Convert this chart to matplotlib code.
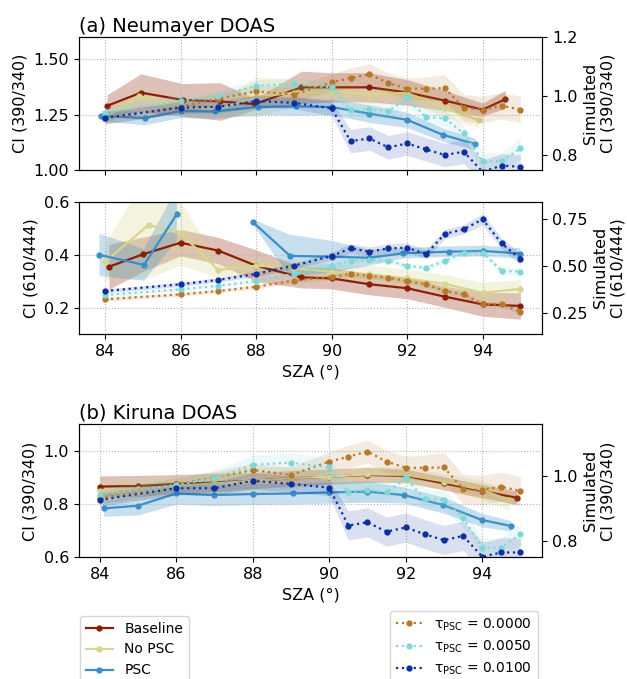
import numpy as np
import matplotlib
matplotlib.use("Agg")
import matplotlib.pyplot as plt
from matplotlib.lines import Line2D
from matplotlib.ticker import MultipleLocator

plt.rcParams['font.size'] = 11.5

# colours of the six series
C_BASE = "#8a1e05"
C_NOPSC = "#d6d68c"
C_PSC = "#3a8fc6"
C_T0 = "#b8782a"
C_T5 = "#80d8d6"
C_T10 = "#0b2f9e"

# simulated SZA grid (same for all panels)
sza_sim = [84, 86, 87, 88, 89, 90, 90.5, 91, 91.5, 92, 92.5, 93, 93.5, 94, 94.5, 95]

# ---- (a) Neumayer, CI 390/340 ----
nm1_base_x = [84.05, 84.95, 86.05, 87.05, 87.97, 89.2, 90.0, 91.0, 92.0, 93.0, 94.0, 94.6]
nm1_base_y = [1.29, 1.35, 1.317, 1.31, 1.298, 1.374, 1.374, 1.374, 1.351, 1.314, 1.273, 1.32]
nm1_base_e = [0.05, 0.085, 0.074, 0.085, 0.025, 0.073, 0.066, 0.066, 0.058, 0.045, 0.03, 0.04]

nm1_nopsc_x = [84.0, 84.9, 86.0, 87.0, 88.0, 89.0, 90.0, 91.0, 92.0, 93.0, 93.9]
nm1_nopsc_y = [1.235, 1.335, 1.285, 1.275, 1.33, 1.35, 1.355, 1.343, 1.349, 1.28, 1.225]
nm1_nopsc_e = [0.03, 0.04, 0.03, 0.03, 0.09, 0.06, 0.04, 0.04, 0.04, 0.04, 0.035]

nm1_psc_x = [83.9, 85.05, 86.0, 86.9, 88.05, 89.05, 90.0, 91.0, 92.0, 92.95, 93.8]
nm1_psc_y = [1.245, 1.235, 1.267, 1.265, 1.285, 1.288, 1.285, 1.255, 1.227, 1.159, 1.118]
nm1_psc_e = [0.025, 0.03, 0.03, 0.03, 0.035, 0.04, 0.035, 0.04, 0.035, 0.03, 0.025]

nm1_t0 = [0.925, 0.965, 0.992, 1.017, 1.006, 1.047, 1.062, 1.075, 1.045, 1.026, 1.026, 1.028, 0.961, 0.955, 0.968, 0.955]
nm1_t0_e = [0.02, 0.02, 0.02, 0.02, 0.025, 0.03, 0.035, 0.035, 0.035, 0.035, 0.04, 0.045, 0.045, 0.045, 0.045, 0.045]
nm1_t5 = [0.944, 0.985, 1.0, 1.036, 1.041, 1.03, 0.953, 0.956, 0.95, 0.993, 0.93, 0.925, 0.874, 0.78, 0.78, 0.823]
nm1_t5_e = [0.02, 0.02, 0.02, 0.02, 0.02, 0.02, 0.025, 0.025, 0.025, 0.025, 0.03, 0.03, 0.03, 0.03, 0.03, 0.035]
nm1_t10 = [0.927, 0.962, 0.964, 0.984, 0.978, 0.959, 0.848, 0.857, 0.827, 0.84, 0.82, 0.801, 0.812, 0.744, 0.765, 0.761]
nm1_t10_e = [0.02, 0.02, 0.02, 0.02, 0.02, 0.025, 0.04, 0.04, 0.04, 0.04, 0.04, 0.04, 0.04, 0.04, 0.04, 0.04]

# ---- (a) Neumayer, CI 610/444 ----
nm2_base_x = [84.1, 85.0, 86.0, 87.0, 88.0, 89.2, 90.0, 91.0, 92.0, 93.0, 94.0, 95.0]
nm2_base_y = [0.354, 0.401, 0.445, 0.415, 0.358, 0.314, 0.31, 0.288, 0.273, 0.241, 0.212, 0.206]
nm2_base_e = [0.085, 0.065, 0.05, 0.05, 0.06, 0.04, 0.04, 0.04, 0.04, 0.04, 0.045, 0.05]

nm2_nopsc_x = [84.0, 85.15, 86.0, 87.0, 88.0, 89.0, 90.0, 91.0, 92.0, 93.0, 94.0, 95.0]
nm2_nopsc_y = [0.373, 0.512, 0.48, 0.342, 0.358, 0.35, 0.335, 0.325, 0.31, 0.289, 0.256, 0.27]
nm2_nopsc_e = [0.07, 0.2, 0.12, 0.03, 0.03, 0.03, 0.03, 0.035, 0.035, 0.035, 0.04, 0.035]

nm2_psc_x = [83.85, 85.03, 85.9, 87.0, 87.92, 88.9, 90.0, 91.0, 91.9, 93.1, 94.0, 95.0]
nm2_psc_y = [0.399, 0.361, 0.553, np.nan, 0.522, 0.395, 0.392, 0.388, 0.405, 0.411, 0.414, 0.404]
nm2_psc_e = [0.08, 0.06, 0.1, np.nan, 0.01, 0.08, 0.06, 0.03, 0.02, 0.02, 0.02, 0.02]

nm2_t0 = [0.325, 0.351, 0.369, 0.392, 0.424, 0.445, 0.46, 0.449, 0.44, 0.422, 0.405, 0.369, 0.351, 0.298, 0.298, 0.259]
nm2_t0_e = [0.01, 0.01, 0.01, 0.012, 0.012, 0.015, 0.015, 0.015, 0.015, 0.015, 0.015, 0.015, 0.015, 0.015, 0.015, 0.015]
nm2_t5 = [0.348, 0.378, 0.397, 0.422, 0.46, 0.504, 0.529, 0.534, 0.531, 0.502, 0.493, 0.529, 0.573, 0.573, 0.477, 0.472]
nm2_t5_e = [0.01, 0.01, 0.01, 0.012, 0.012, 0.015, 0.015, 0.015, 0.015, 0.015, 0.015, 0.02, 0.02, 0.02, 0.02, 0.02]
nm2_t10 = [0.369, 0.405, 0.428, 0.46, 0.504, 0.555, 0.596, 0.579, 0.596, 0.6, 0.566, 0.673, 0.698, 0.751, 0.623, 0.54]
nm2_t10_e = [0.01, 0.012, 0.012, 0.015, 0.015, 0.02, 0.025, 0.025, 0.025, 0.025, 0.025, 0.025, 0.025, 0.03, 0.03, 0.03]

# ---- (b) Kiruna, CI 390/340 ----
ki_base_x = [84, 85, 86, 87, 88, 89, 90, 91, 92, 93, 94, 94.9]
ki_base_y = [0.866, 0.868, 0.876, 0.881, 0.888, 0.897, 0.903, 0.91, 0.906, 0.878, 0.849, 0.824]
ki_base_e = [0.04, 0.04, 0.035, 0.035, 0.03, 0.03, 0.028, 0.028, 0.025, 0.025, 0.025, 0.025]

ki_nopsc_x = [84, 85, 86, 87, 88, 89, 90, 91, 92, 93, 94, 94.7]
ki_nopsc_y = [0.848, 0.855, 0.868, 0.878, 0.888, 0.897, 0.903, 0.912, 0.91, 0.885, 0.853, 0.816]
ki_nopsc_e = [0.04, 0.04, 0.035, 0.04, 0.05, 0.04, 0.03, 0.03, 0.03, 0.03, 0.035, 0.04]

ki_psc_x = [84.1, 85, 86, 87, 88, 89.05, 90, 91, 91.95, 92.97, 94, 94.75]
ki_psc_y = [0.784, 0.794, 0.84, 0.834, 0.838, 0.84, 0.844, 0.847, 0.834, 0.797, 0.74, 0.718]
ki_psc_e = [0.03, 0.035, 0.04, 0.04, 0.04, 0.04, 0.04, 0.04, 0.03, 0.03, 0.025, 0.02]

ki_t0 = [0.934, 0.975, 0.996, 1.019, 1.004, 1.045, 1.06, 1.076, 1.045, 1.026, 1.026, 1.027, 0.96, 0.958, 0.968, 0.954]
ki_t0_e = [0.02, 0.02, 0.02, 0.02, 0.025, 0.03, 0.035, 0.035, 0.035, 0.035, 0.04, 0.045, 0.045, 0.045, 0.045, 0.045]
ki_t5 = [0.942, 0.973, 0.994, 1.035, 1.042, 1.027, 0.95, 0.958, 0.95, 0.994, 0.929, 0.927, 0.872, 0.78, 0.78, 0.822]
ki_t5_e = [0.02, 0.02, 0.025, 0.03, 0.03, 0.03, 0.03, 0.03, 0.03, 0.03, 0.03, 0.03, 0.03, 0.03, 0.03, 0.035]
ki_t10 = [0.927, 0.963, 0.963, 0.986, 0.976, 0.965, 0.848, 0.858, 0.829, 0.842, 0.821, 0.803, 0.816, 0.752, 0.765, 0.765]
ki_t10_e = [0.02, 0.02, 0.02, 0.025, 0.025, 0.025, 0.045, 0.045, 0.045, 0.045, 0.045, 0.045, 0.045, 0.045, 0.045, 0.045]


def draw(ax, x, y, err, color, ls, alpha):
    x = np.asarray(x, float)
    y = np.asarray(y, float)
    e = np.asarray(err, float)
    ax.fill_between(x, y - e, y + e, color=color, alpha=alpha, lw=0)
    ax.plot(x, y, ls=ls, color=color, marker='o', ms=3.5, lw=1.6)


def panel(ax, obs, sim):
    for (x, y, e), c in zip(obs, [C_BASE, C_NOPSC, C_PSC]):
        draw(ax, x, y, e, c, '-', 0.28)
    axr = ax.twinx()
    for (y, e), c in zip(sim, [C_T0, C_T5, C_T10]):
        draw(axr, sza_sim, y, e, c, ':', 0.15)
    ax.grid(True, ls=':', color='#b5b5b5', lw=0.8)
    return axr


fig = plt.figure(figsize=(6.27, 6.79), dpi=100)
ax1 = fig.add_axes([0.1255, 0.7496, 0.7394, 0.1954])
ax2 = fig.add_axes([0.1255, 0.5081, 0.7394, 0.1949], sharex=ax1)
ax3 = fig.add_axes([0.1255, 0.1792, 0.7394, 0.1959])

ax1r = panel(ax1,
             [(nm1_base_x, nm1_base_y, nm1_base_e),
              (nm1_nopsc_x, nm1_nopsc_y, nm1_nopsc_e),
              (nm1_psc_x, nm1_psc_y, nm1_psc_e)],
             [(nm1_t0, nm1_t0_e), (nm1_t5, nm1_t5_e), (nm1_t10, nm1_t10_e)])
ax2r = panel(ax2,
             [(nm2_base_x, nm2_base_y, nm2_base_e),
              (nm2_nopsc_x, nm2_nopsc_y, nm2_nopsc_e),
              (nm2_psc_x, nm2_psc_y, nm2_psc_e)],
             [(nm2_t0, nm2_t0_e), (nm2_t5, nm2_t5_e), (nm2_t10, nm2_t10_e)])
ax3r = panel(ax3,
             [(ki_base_x, ki_base_y, ki_base_e),
              (ki_nopsc_x, ki_nopsc_y, ki_nopsc_e),
              (ki_psc_x, ki_psc_y, ki_psc_e)],
             [(ki_t0, ki_t0_e), (ki_t5, ki_t5_e), (ki_t10, ki_t10_e)])

# limits and ticks
ax1.set_xlim(83.3, 95.58)
ax3.set_xlim(83.45, 95.57)
for ax in (ax1, ax3):
    ax.xaxis.set_major_locator(MultipleLocator(2))

ax1.set_ylim(1.0, 1.6)
ax1.yaxis.set_major_locator(MultipleLocator(0.25))
ax1r.set_ylim(0.75, 1.2)
ax1r.yaxis.set_major_locator(MultipleLocator(0.2))

ax2.set_ylim(0.1, 0.6)
ax2.yaxis.set_major_locator(MultipleLocator(0.2))
ax2r.set_ylim(0.14, 0.845)
ax2r.yaxis.set_major_locator(MultipleLocator(0.25))

ax3.set_ylim(0.6, 1.1)
ax3.yaxis.set_major_locator(MultipleLocator(0.2))
ax3r.set_ylim(0.75, 1.16)
ax3r.yaxis.set_major_locator(MultipleLocator(0.2))

ax1.tick_params(labelbottom=False)

ax1.set_title("(a) Neumayer DOAS", loc='left', fontsize=14, pad=4)
ax3.set_title("(b) Kiruna DOAS", loc='left', fontsize=14, pad=4)

ax1.set_ylabel("CI (390/340)")
ax1r.set_ylabel("Simulated\nCI (390/340)")
ax2.set_ylabel("CI (610/444)")
ax2r.set_ylabel("Simulated\nCI (610/444)")
ax3.set_ylabel("CI (390/340)")
ax3r.set_ylabel("Simulated\nCI (390/340)")
ax2.set_xlabel("SZA (°)")
ax3.set_xlabel("SZA (°)")

# legends
obs_handles = [Line2D([], [], color=c, marker='o', ms=3.5, lw=1.6, label=l)
               for c, l in zip([C_BASE, C_NOPSC, C_PSC], ["Baseline", "No PSC", "PSC"])]
sim_handles = [Line2D([], [], color=c, ls=':', marker='o', ms=3.5, lw=1.6,
                      label="τ$_{\\rm PSC}$ = " + t)
               for c, t in zip([C_T0, C_T5, C_T10], ["0.0000", "0.0050", "0.0100"])]
fig.legend(handles=obs_handles, loc='upper left', bbox_to_anchor=(0.1276, 0.0928),
           borderaxespad=0, fontsize=10)
fig.legend(handles=sim_handles, loc='upper left', bbox_to_anchor=(0.622, 0.1005),
           borderaxespad=0, fontsize=10, labelspacing=0.42)

fig.savefig("out.png", dpi=100)
